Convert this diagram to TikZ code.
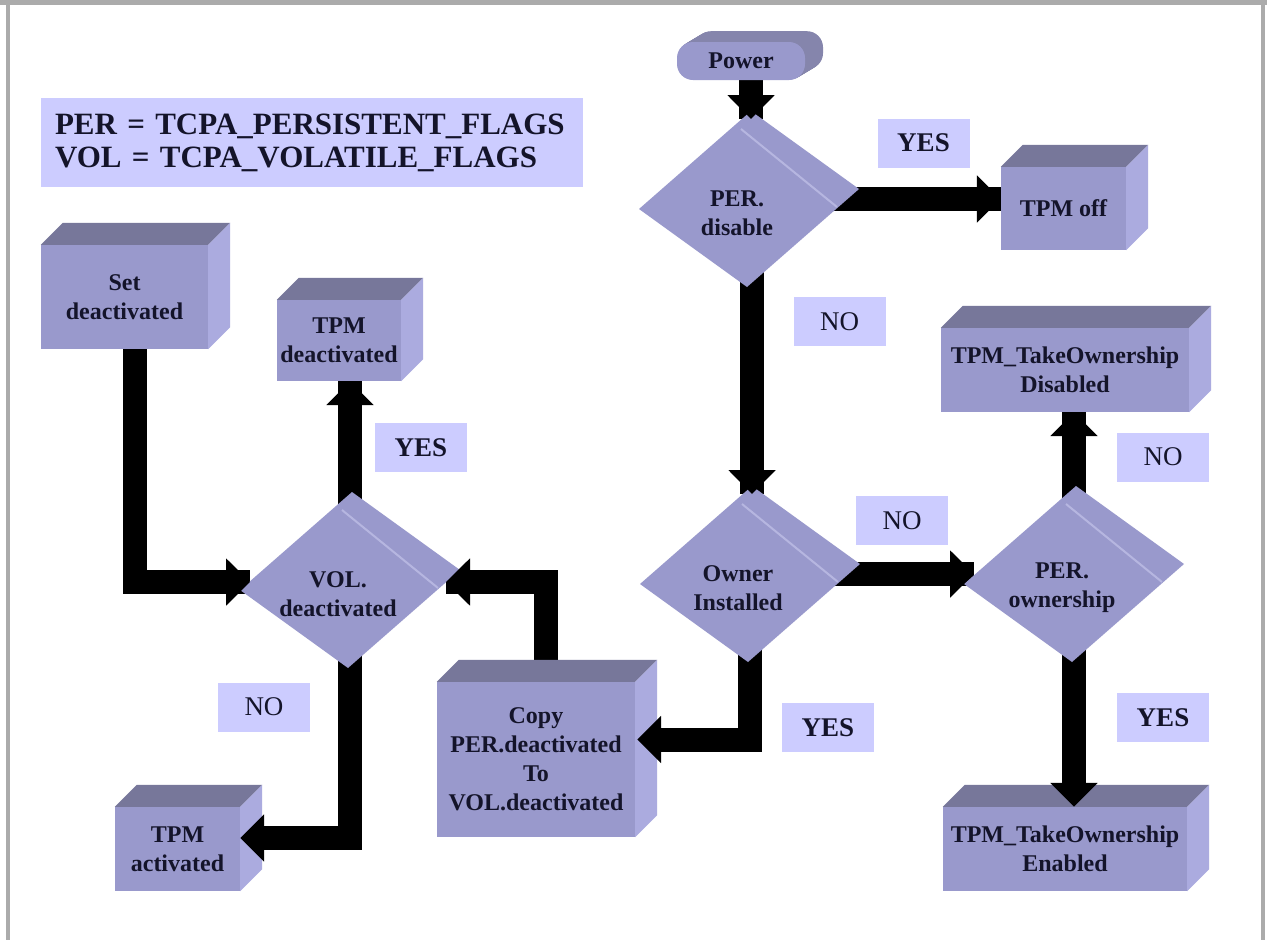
\documentclass[tikz,border=0pt]{standalone}
\usepackage{fontspec}
\setmainfont{Liberation Serif}
\usetikzlibrary{calc,arrows.meta}
\pgfdeclarelayer{background}
\pgfdeclarelayer{behind}
\pgfsetlayers{background,behind,main}
\definecolor{front}{HTML}{9999CC}
\definecolor{topf}{HTML}{77779A}
\definecolor{side}{HTML}{ABABDF}
\definecolor{dia}{HTML}{9999CC}
\definecolor{stripec}{HTML}{B6B6E0}
\definecolor{lab}{HTML}{CCCCFF}
\definecolor{ink}{HTML}{14142A}
\definecolor{framec}{HTML}{ABABAB}
\definecolor{powtop}{HTML}{8585AC}

\tikzset{
  cube/.style={fill=front, inner sep=0pt, align=center, text=ink,
    font=\fontsize{24pt}{29pt}\selectfont\bfseries},
  dtext/.style={inner sep=0pt, align=center, text=ink,
    font=\fontsize{24pt}{29pt}\selectfont\bfseries},
  labbox/.style={fill=lab, minimum width=92pt, minimum height=49pt, inner sep=0pt, text=ink},
  yesf/.style={font=\fontsize{27pt}{30pt}\selectfont\bfseries},
  nof/.style={font=\fontsize{27pt}{30pt}\selectfont},
  conn/.style={line width=24pt, black, line join=miter},
  head/.style={conn, -{Triangle[length=24pt,width=46pt]}},
}

\newcommand\cubefaces[1]{%
  \fill[topf] (#1.north west) -- ++(22,-22) -- ($(#1.north east)+(22,-22)$) -- (#1.north east) -- cycle;
  \fill[side] (#1.north east) -- ++(22,-22) -- ($(#1.south east)+(22,-22)$) -- (#1.south east) -- cycle;
}
\newcommand\diam[4]{%
  \coordinate (#1-c) at (#2+12,#3-14);
  \coordinate (#1-t) at ($(#1-c)+(2,-88)$);
  \coordinate (#1-r) at ($(#1-c)+(110,-10)$);
  \coordinate (#1-b) at ($(#1-c)+(-2,88)$);
  \coordinate (#1-l) at ($(#1-c)+(-110,10)$);
  \fill[dia] (#1-t) -- (#1-r) -- (#1-b) -- (#1-l) -- cycle;
  \draw[stripec, line width=2pt] ($(#1-c)+(-8,-70)$) -- ($(#1-c)+(88,8)$);
  \node[dtext] (#1) at (#2,#3) {#4};
}
\newcommand\tipto[2]{\draw[head] ($(#2)!30pt!(#1)$) -- (#2);}

\begin{document}
\begin{tikzpicture}[x=1pt,y=-1pt]
\useasboundingbox (0,0) rectangle (1267,940);
\begin{pgfonlayer}{background}
  \fill[white] (0,0) rectangle (1267,940);
\end{pgfonlayer}
% frame
\fill[framec] (0,0) rectangle (1267,5);
\fill[framec] (6,0) rectangle (10,940);
\fill[framec] (1261,0) rectangle (1265,940);

% legend
\node[fill=lab, minimum height=89pt, text width=514pt, inner xsep=14pt, inner ysep=0pt,
      align=left, text=ink, font=\fontsize{31pt}{33pt}\selectfont\bfseries]
  (legend) at (312,142.5) {PER = TCPA\_PERSISTENT\_FLAGS\\VOL = TCPA\_VOLATILE\_FLAGS};

% power terminator
\foreach \i in {18,17,...,1}
  \fill[powtop, rounded corners=16pt] (677+\i,42-0.6*\i) rectangle (805+\i,80-0.6*\i);
\node[fill=front, rounded corners=16pt, minimum width=128pt, minimum height=38pt, inner sep=0pt,
      text=ink, font=\fontsize{24pt}{29pt}\selectfont\bfseries] (power) at (741,61) {Power};

% decisions
\diam{perdis}{737}{213}{PER.\\disable}
\diam{vol}{338}{594}{VOL.\\deactivated}
\diam{owner}{738}{588}{Owner\\Installed}
\diam{perown}{1062}{588}{PER.\\ownership}

% boxes
\node[cube, minimum width=167pt, minimum height=104pt] (set) at (124.5,297) {Set\\deactivated};
\cubefaces{set}
\node[cube, minimum width=124pt, minimum height=81pt] (tpmdeact) at (339,340.5) {TPM\\deactivated};
\cubefaces{tpmdeact}
\node[cube, minimum width=125pt, minimum height=83pt] (tpmoff) at (1063.5,208.5) {TPM off};
\cubefaces{tpmoff}
\node[cube, minimum width=248pt, minimum height=84pt] (disabled) at (1065,370) {TPM\_TakeOwnership\\Disabled};
\cubefaces{disabled}
\node[cube, minimum width=244pt, minimum height=84pt] (enabled) at (1065,849) {TPM\_TakeOwnership\\Enabled};
\cubefaces{enabled}
\node[cube, minimum width=198pt, minimum height=155pt] (copy) at (536,759.5) {Copy\\PER.deactivated\\To\\VOL.deactivated};
\cubefaces{copy}
\node[cube, minimum width=125pt, minimum height=84pt] (tpmact) at (177.5,849) {TPM\\activated};
\cubefaces{tpmact}

% labels
\node[labbox,yesf] (yes1) at (923.5,143) {YES};
\node[labbox,nof] (no1) at (839.5,321.5) {NO};
\node[labbox,nof] (no2) at (1163,457) {NO};
\node[labbox,nof] (no3) at (902,520.5) {NO};
\node[labbox,yesf] (yes2) at (1163,717.5) {YES};
\node[labbox,yesf] (yes3) at (828,727.5) {YES};
\node[labbox,nof] (no4) at (264,707) {NO};
\node[labbox,yesf] (yes4) at (421,447.5) {YES};

% connector points
\coordinate (a0) at (power.center -| perdis-t);
\coordinate (a1) at ($(perdis-t)+(0,8)$);
\coordinate (b1) at (tpmoff.west |- perdis-c);
\coordinate (c0) at (owner-t |- perdis-c);
\coordinate (c1) at ($(owner-t)+(0,8)$);
\coordinate (d1) at ($(perown-l)+(10,-10)$);
\coordinate (e1) at (perown-c |- disabled.south);
\coordinate (f1) at (perown-c |- enabled.north);
\coordinate (g1) at ($(copy.east)+(2,-20)$);
\coordinate (g0) at (owner-c |- g1);
\coordinate (h0) at ($(copy.center)+(10,0)$);
\coordinate (h2) at ($(vol-r)+(-14,12)$);
\coordinate (h1) at (h0 |- h2);
\coordinate (i0) at ($(set.center)+(10,0)$);
\coordinate (i2) at ($(vol-l)+(10,-8)$);
\coordinate (i1) at (i0 |- i2);
\coordinate (j1) at (vol-c |- tpmdeact.south);
\coordinate (k2) at ($(tpmact.east)+(0,-11)$);
\coordinate (k1) at (vol-c |- k2);

\begin{pgfonlayer}{behind}
  \draw[conn] (a0) -- (a1);
  \draw[conn] (perdis-c) -- (b1);
  \draw[conn] (c0) -- (c1);
  \draw[conn] (owner-c) -- (d1);
  \draw[conn] (perown-c) -- (e1);
  \draw[conn] (perown-c) -- (f1);
  \draw[conn] (owner-c) -- (g0) -- (g1);
  \draw[conn] (h0) -- (h1) -- (h2);
  \draw[conn] (i0) -- (i1) -- (i2);
  \draw[conn] (vol-c) -- (j1);
  \draw[conn] (vol-c) -- (k1) -- (k2);
\end{pgfonlayer}
\tipto{a0}{a1}
\tipto{perdis-c}{b1}
\tipto{c0}{c1}
\tipto{owner-c}{d1}
\tipto{perown-c}{e1}
\tipto{perown-c}{f1}
\tipto{g0}{g1}
\tipto{h1}{h2}
\tipto{i1}{i2}
\tipto{vol-c}{j1}
\tipto{k1}{k2}
\end{tikzpicture}
\end{document}
